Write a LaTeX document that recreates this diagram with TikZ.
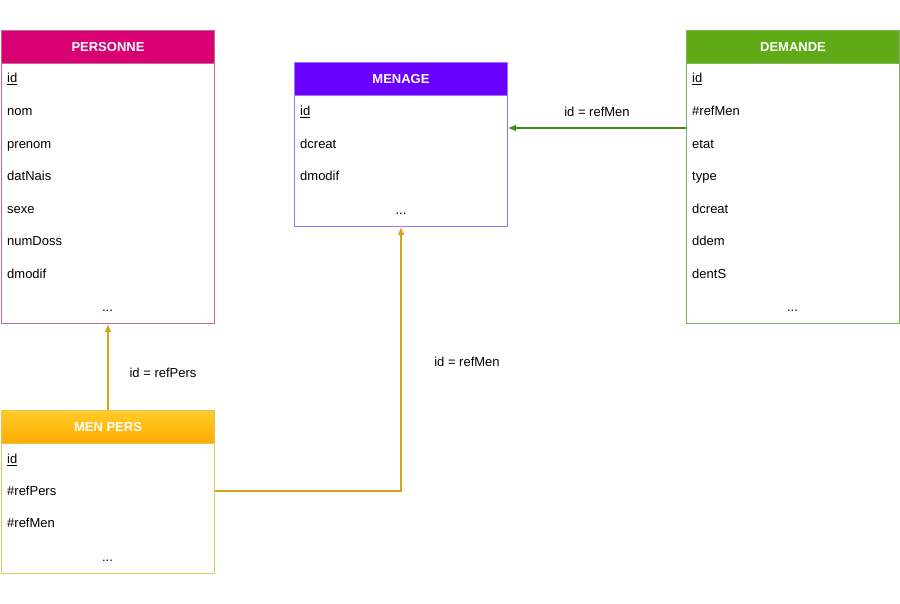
\documentclass[tikz,border=0pt]{standalone}
\usepackage{fontspec}
\setmainfont{Liberation Sans}
\usepackage{xcolor}
\usetikzlibrary{positioning,arrows.meta}

\definecolor{persHead}{HTML}{D80073}
\definecolor{persLine}{HTML}{C5679B}
\definecolor{menHead}{HTML}{6A00FF}
\definecolor{menLine}{HTML}{9A75F5}
\definecolor{demHead}{HTML}{60A917}
\definecolor{demLine}{HTML}{7FB35C}
\definecolor{mpTop}{HTML}{FFCD28}
\definecolor{mpBot}{HTML}{FFAB00}
\definecolor{mpLine}{HTML}{E6C25E}
\definecolor{relOrange}{HTML}{D9A21E}
\definecolor{relGreen}{HTML}{3F8F12}

\tikzset{
  head/.style={rectangle, minimum width=213pt, minimum height=33pt, inner sep=0pt,
    anchor=north west, text=white, font=\fontsize{13}{15}\selectfont\bfseries},
  body/.style={rectangle, minimum width=213pt, inner sep=0pt, anchor=north west, fill=white},
  field/.style={anchor=west, inner sep=0pt, text height=9.5pt, text depth=3pt,
    font=\fontsize{13}{15}\selectfont},
  dots/.style={inner sep=0pt, text height=9.5pt, text depth=3pt, font=\fontsize{13}{15}\selectfont},
  relab/.style={inner sep=0pt, font=\fontsize{13}{15}\selectfont},
  rel/.style={-{Latex[length=8pt,width=7pt]}, line width=1.2pt}
}

\begin{document}
\begin{tikzpicture}[x=1pt,y=-1pt]
\useasboundingbox (0,0) rectangle (900,604);

% PERSONNE
\node[body, draw=persLine, line width=1pt, minimum height=293pt] (pers) at (1,30) {};
\node[head, fill=persHead, draw=persLine, line width=1pt] (persh) at (1,30) {PERSONNE};
\node[field] (p1) at (7,79) {\underline{id}};
\node[field] (p2) at (7,112) {nom};
\node[field] (p3) at (7,145) {prenom};
\node[field] (p4) at (7,177) {datNais};
\node[field] (p5) at (7,210) {sexe};
\node[field] (p6) at (7,242) {numDoss};
\node[field] (p7) at (7,275) {dmodif};
\node[dots] (p8) at (107.5,308) {...};

% MENAGE
\node[body, draw=menLine, line width=1pt, minimum height=164pt] (men) at (294,62) {};
\node[head, fill=menHead, draw=menLine, line width=1pt] (menh) at (294,62) {MENAGE};
\node[field] (m1) at (300,112) {\underline{id}};
\node[field] (m2) at (300,145) {dcreat};
\node[field] (m3) at (300,177) {dmodif};
\node[dots] (m4) at (401,211) {...};

% DEMANDE
\node[body, draw=demLine, line width=1pt, minimum height=293pt] (dem) at (686,30) {};
\node[head, fill=demHead, draw=demLine, line width=1pt] (demh) at (686,30) {DEMANDE};
\node[field] (d1) at (692,79) {\underline{id}};
\node[field] (d2) at (692,112) {\#refMen};
\node[field] (d3) at (692,145) {etat};
\node[field] (d4) at (692,177) {type};
\node[field] (d5) at (692,210) {dcreat};
\node[field] (d6) at (692,242) {ddem};
\node[field] (d7) at (692,275) {dentS};
\node[dots] (d8) at (792.5,308) {...};

% MEN PERS
\node[body, draw=mpLine, line width=1pt, minimum height=163pt] (mp) at (1,410) {};
\node[head, top color=mpTop, bottom color=mpBot, draw=mpLine, line width=1pt] (mph) at (1,410) {MEN PERS};
\node[field] (mp1) at (7,460) {\underline{id}};
\node[field] (mp2) at (7,492) {\#refPers};
\node[field] (mp3) at (7,524) {\#refMen};
\node[dots] (mp4) at (107.5,558) {...};

% relations
\coordinate (demin) at (dem.west |- 0,128);
\coordinate (menin) at (men.east |- 0,128);
\coordinate (mpout) at (mp.east |- 0,491);
\draw[rel, relGreen] (demin) -- (menin);
\node[relab] (l1) at (597,112) {id = refMen};

\draw[rel, relOrange] (mph.north) -- (pers.south);
\node[relab] (l2) at (163,373) {id = refPers};

\draw[rel, relOrange] (mpout) -| (men.south);
\node[relab] (l3) at (467,362) {id = refMen};
\end{tikzpicture}
\end{document}
